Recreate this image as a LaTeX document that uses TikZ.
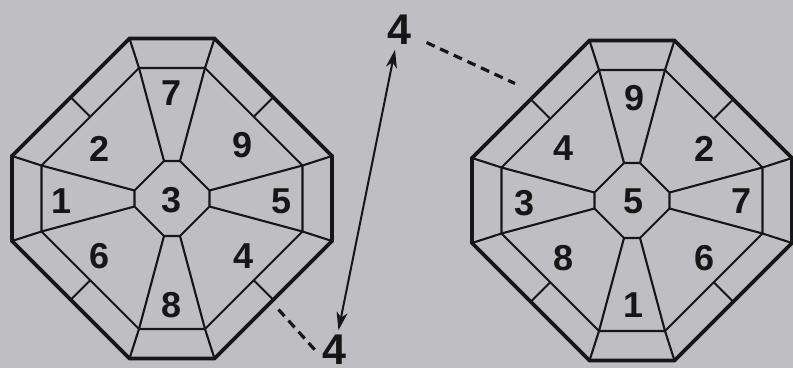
\documentclass[tikz,border=0pt]{standalone}
\usepackage{fontspec}
\setmainfont{Liberation Sans}
\usetikzlibrary{arrows.meta}
\definecolor{bg}{RGB}{191,191,195}
\definecolor{ink}{RGB}{22,22,22}
\tikzset{
  outerline/.style={line width=3.8pt, draw=ink, line join=miter},
  thinline/.style={line width=2.1pt, draw=ink},
  digit/.style={font=\fontsize{36}{36}\selectfont\bfseries, text=ink, inner sep=0pt},
  biglabel/.style={font=\fontsize{43}{43}\selectfont\bfseries, text=ink, inner sep=0pt, outer sep=5pt},
  dashline/.style={line width=3.2pt, draw=ink, dash pattern=on 9pt off 6pt},
  arrowline/.style={line width=2pt, draw=ink,
    {Stealth[length=18pt,width=11pt,inset=5pt]}-{Stealth[length=18pt,width=11pt,inset=5pt]}}
}
\newcommand\drawocta[2]{%
\begin{scope}[shift={#2}]
  \path (-42.5,-160) coordinate (#1o1) (42.5,-160) coordinate (#1o2)
        (160,-42.5) coordinate (#1o3) (160,42.5) coordinate (#1o4)
        (42.5,160) coordinate (#1o5) (-42.5,160) coordinate (#1o6)
        (-160,42.5) coordinate (#1o7) (-160,-42.5) coordinate (#1o8);
  \path (-33,-130.5) coordinate (#1i1) (33,-130.5) coordinate (#1i2)
        (130.5,-33) coordinate (#1i3) (130.5,33) coordinate (#1i4)
        (33,130.5) coordinate (#1i5) (-33,130.5) coordinate (#1i6)
        (-130.5,33) coordinate (#1i7) (-130.5,-33) coordinate (#1i8);
  \path (-8,-37.5) coordinate (#1c1) (8,-37.5) coordinate (#1c2)
        (37.5,-8) coordinate (#1c3) (37.5,8) coordinate (#1c4)
        (8,37.5) coordinate (#1c5) (-8,37.5) coordinate (#1c6)
        (-37.5,8) coordinate (#1c7) (-37.5,-8) coordinate (#1c8);
  \path (-101.25,-101.25) coordinate (#1m1) (101.25,-101.25) coordinate (#1m2)
        (101.25,101.25) coordinate (#1m3) (-101.25,101.25) coordinate (#1m4);
  \path (-81.75,-81.75) coordinate (#1n1) (81.75,-81.75) coordinate (#1n2)
        (81.75,81.75) coordinate (#1n3) (-81.75,81.75) coordinate (#1n4);
  \draw[thinline] (#1i1)--(#1i2)--(#1i3)--(#1i4)--(#1i5)--(#1i6)--(#1i7)--(#1i8)--cycle;
  \draw[thinline] (#1c1)--(#1c2)--(#1c3)--(#1c4)--(#1c5)--(#1c6)--(#1c7)--(#1c8)--cycle;
  \foreach \k in {1,...,8}{\draw[thinline] (#1o\k)--(#1i\k)--(#1c\k);}
  \foreach \k in {1,...,4}{\draw[thinline] (#1m\k)--(#1n\k);}
  \draw[outerline] (#1o1)--(#1o2)--(#1o3)--(#1o4)--(#1o5)--(#1o6)--(#1o7)--(#1o8)--cycle;
\end{scope}}
\begin{document}
\begin{tikzpicture}[x=1pt,y=-1pt]
  \fill[bg] (0,0) rectangle (793,368);
  \useasboundingbox (0,0) rectangle (793,368);
  \drawocta{L}{(172,198.5)}
  \drawocta{R}{(632,200.5)}
  % left octagon digits
  \node[digit] (L7) at (172,93.5) {7};
  \node[digit] (L2) at (100,148.5) {2};
  \node[digit] (L9) at (243,145.5) {9};
  \node[digit] (L1) at (62,201.5) {1};
  \node[digit] (L3) at (171.5,200) {3};
  \node[digit] (L5) at (282,201.5) {5};
  \node[digit] (L6) at (100,256.5) {6};
  \node[digit] (L4) at (243.5,256.5) {4};
  \node[digit] (L8) at (172,305) {8};
  % right octagon digits
  \node[digit] (R9) at (635,98.5) {9};
  \node[digit] (R4) at (563.5,148.5) {4};
  \node[digit] (R2) at (705,148.5) {2};
  \node[digit] (R3) at (525,203) {3};
  \node[digit] (R5) at (633.5,201.5) {5};
  \node[digit] (R7) at (741.5,201.5) {7};
  \node[digit] (R8) at (563.5,258) {8};
  \node[digit] (R6) at (705,258) {6};
  \node[digit] (R1) at (633.5,305) {1};
  % the two 4 labels
  \node[biglabel] (t4) at (399,30) {4};
  \node[biglabel] (b4) at (334.5,350) {4};
  \draw[arrowline] (t4) -- (b4);
  % dashed leaders
  \coordinate (ldA) at (278.5,309.5);
  \coordinate (ldB) at (315,350);
  \draw[dashline] (ldA) -- (ldB);
  \coordinate (tdA) at (426.5,42.5);
  \coordinate (tdB) at (515,83.5);
  \draw[dashline] (tdA) -- (tdB);
\end{tikzpicture}
\end{document}
